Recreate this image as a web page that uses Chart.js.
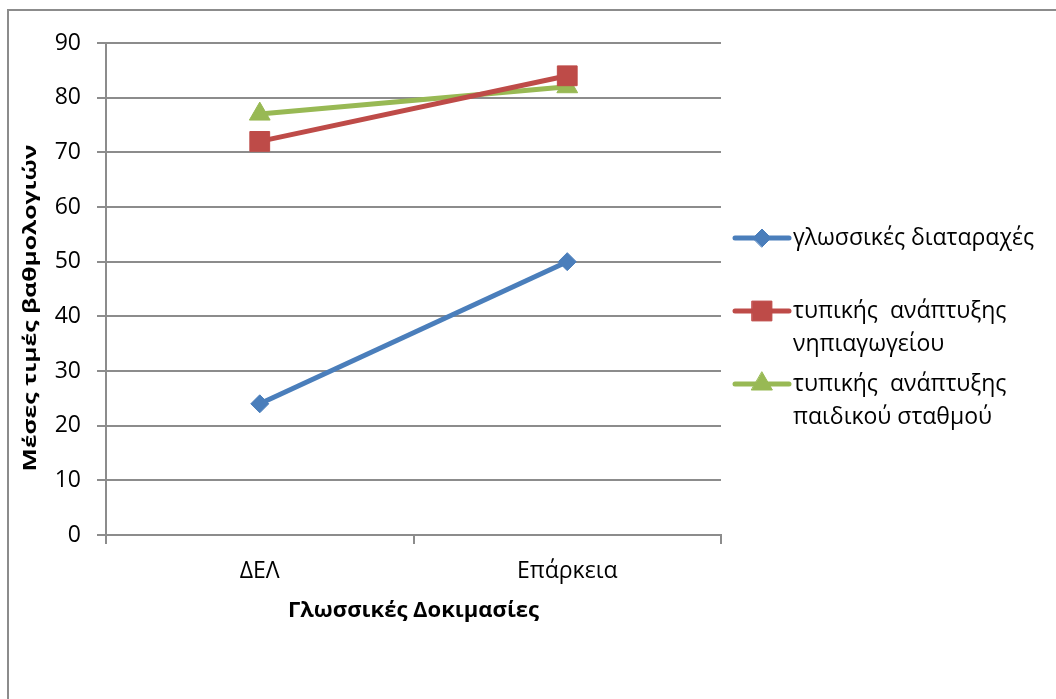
<!DOCTYPE html>
<html lang="el">
<head>
<meta charset="utf-8">
<title>Μέσες τιμές βαθμολογιών</title>
<script src="https://cdn.jsdelivr.net/npm/chart.js@4.4.1/dist/chart.umd.min.js"></script>
<style>
    html, body { margin: 0; padding: 0; background: #fff; }
    #wrap { width: 1056px; height: 699px; position: relative; }
</style>
</head>
<body>
<div id="wrap"><canvas id="scores-chart" width="1056" height="699"></canvas></div>
<script>
// Mean scores per language test, three groups of children
const categories = ['ΔΕΛ', 'Επάρκεια'];
const disorderScores = [24, 50];
const kindergartenScores = [72, 84];
const nurseryScores = [77, 82];

const seriesLabels = [
    'γλωσσικές διαταραχές',
    'τυπικής ανάπτυξης νηπιαγωγείου',
    'τυπικής ανάπτυξης παιδικού σταθμού'
];
// legend text wraps over two lines for the longer labels
const legendLines = [
    ['γλωσσικές διαταραχές'],
    ['τυπικής  ανάπτυξης', 'νηπιαγωγείου'],
    ['τυπικής  ανάπτυξης', 'παιδικού σταθμού']
];
const xTitle = 'Γλωσσικές Δοκιμασίες';
const yTitle = 'Μέσες τιμές βαθμολογιών';

const yMin = 0;
const yMax = 90;
const yStep = 10;

const FONT = '"Open Sans", "Noto Sans", "DejaVu Sans", sans-serif';
const GRID = '#8c8c8c';
const COLORS = ['#4a7ebb', '#be4b48', '#98b954'];
const POINTS = [
    { style: 'rectRot', radius: 9 },
    { style: 'rect', radius: 14 },
    { style: 'triangle', radius: 12 }
];
const Y_TITLE_STRETCH = 1.37;

// outer frame, vertical axis title and the wrapped legend on the right
const sideLegend = {
    id: 'sideLegend',
    beforeDraw(chart) {
        const ctx = chart.ctx;
        ctx.save();
        ctx.strokeStyle = GRID;
        ctx.lineWidth = 2;
        ctx.beginPath();
        ctx.moveTo(8, chart.height);
        ctx.lineTo(8, 10);
        ctx.lineTo(chart.width, 10);
        ctx.stroke();
        ctx.restore();
    },
    afterDraw(chart) {
        const ctx = chart.ctx;
        const area = chart.chartArea;

        // y title, drawn stretched along its length, sitting a bit below the plot middle
        ctx.save();
        ctx.translate(31, (area.top + area.bottom) / 2 + 19);
        ctx.rotate(-Math.PI / 2);
        ctx.scale(Y_TITLE_STRETCH, 1);
        ctx.font = 'bold 18px ' + FONT;
        ctx.fillStyle = '#000';
        ctx.textAlign = 'center';
        ctx.textBaseline = 'middle';
        ctx.fillText(yTitle, 0, 0);
        ctx.restore();

        const x0 = area.right + 14;
        const textX = x0 + 58;
        let y = 238;
        ctx.save();
        ctx.font = '23px ' + FONT;
        ctx.textBaseline = 'middle';
        chart.data.datasets.forEach((ds, i) => {
            ctx.strokeStyle = ds.borderColor;
            ctx.lineWidth = 5;
            ctx.lineCap = 'round';
            ctx.beginPath();
            ctx.moveTo(x0, y);
            ctx.lineTo(textX - 4, y);
            ctx.stroke();
            ctx.fillStyle = ds.pointBackgroundColor;
            ctx.strokeStyle = ds.pointBackgroundColor;
            ctx.lineWidth = 1;
            Chart.helpers.drawPoint(ctx, {
                pointStyle: ds.pointStyle,
                radius: ds.pointRadius,
                rotation: 0,
                borderWidth: 1
            }, (x0 + textX - 4) / 2, y);
            ctx.fillStyle = '#000';
            legendLines[i].forEach((line, j) => {
                ctx.fillText(line, textX, y + j * 33);
            });
            y += 73;
        });
        ctx.restore();
    }
};

function makeSeries(label, data, i) {
    return {
        label,
        data,
        borderColor: COLORS[i],
        backgroundColor: COLORS[i],
        borderWidth: 5,
        pointStyle: POINTS[i].style,
        pointRadius: POINTS[i].radius,
        pointHoverRadius: POINTS[i].radius,
        pointBackgroundColor: COLORS[i],
        pointBorderColor: COLORS[i],
        pointBorderWidth: 1,
        tension: 0
    };
}

new Chart(document.getElementById('scores-chart'), {
    type: 'line',
    data: {
        labels: categories,
        datasets: [
            makeSeries(seriesLabels[0], disorderScores, 0),
            makeSeries(seriesLabels[1], kindergartenScores, 1),
            makeSeries(seriesLabels[2], nurseryScores, 2)
        ]
    },
    options: {
        responsive: false,
        animation: false,
        layout: { padding: { top: 43, right: 335, left: 0, bottom: 75 } },
        plugins: {
            legend: { display: false },
            tooltip: { enabled: false }
        },
        scales: {
            x: {
                offset: true,
                grid: {
                    offset: true,
                    drawOnChartArea: false,
                    drawTicks: true,
                    tickLength: 9,
                    color: GRID,
                    lineWidth: 2
                },
                border: { color: GRID, width: 2 },
                ticks: {
                    color: '#000',
                    font: { family: FONT, size: 23 },
                    padding: 14
                },
                title: {
                    display: true,
                    text: xTitle,
                    color: '#000',
                    font: { family: FONT, size: 22, weight: 'bold' },
                    padding: 0
                },
                afterFit(scale) { scale.height = 89; }
            },
            y: {
                min: yMin,
                max: yMax,
                grid: {
                    color: GRID,
                    lineWidth: 2,
                    tickLength: 9
                },
                border: { color: GRID, width: 2 },
                ticks: {
                    stepSize: yStep,
                    color: '#000',
                    font: { family: FONT, size: 23 },
                    padding: 16
                },
                title: { display: false },
                afterFit(scale) { scale.width = 106; }
            }
        }
    },
    plugins: [sideLegend]
});
</script>
</body>
</html>
